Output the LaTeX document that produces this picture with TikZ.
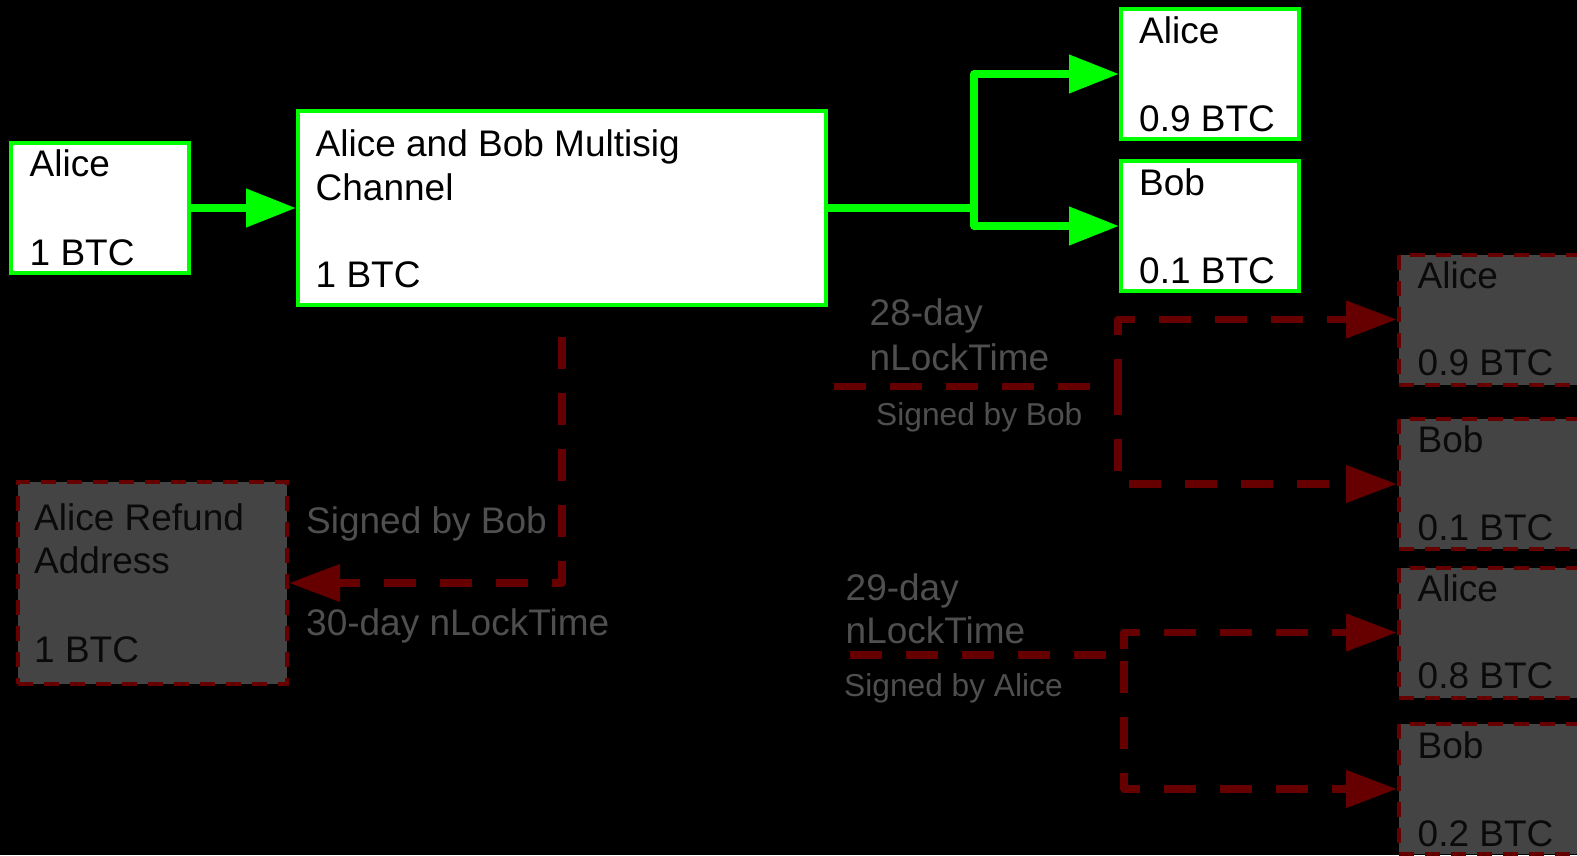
\documentclass[tikz,border=0pt]{standalone}
\usepackage{fontspec}
\setmainfont{Liberation Sans}
\usetikzlibrary{arrows.meta}
\definecolor{chgreen}{HTML}{00FF00}
\definecolor{lockred}{HTML}{660000}
\definecolor{boxgrey}{HTML}{444444}
\definecolor{notegrey}{HTML}{4F4F4F}
\definecolor{inkdark}{HTML}{0A0A0A}
\begin{document}
\begin{tikzpicture}[x=1pt,y=-1pt,
  txbig/.style={font=\fontsize{37}{44}\selectfont, inner sep=0pt, anchor=base west},
  txsmall/.style={font=\fontsize{31.7}{38}\selectfont, inner sep=0pt, anchor=base west},
  paidbox/.style={draw=chgreen, fill=white, line width=4pt, inner sep=0pt},
  lockbox/.style={draw=lockred, fill=boxgrey, line width=4pt, dash pattern=on 15pt off 11pt, inner sep=0pt, minimum width=182pt, minimum height=130pt},
  payflow/.style={draw=chgreen, line width=7.5pt, line join=round, -{Triangle[length=50pt,width=37pt]}},
  lockflow/.style={draw=lockred, line width=7.5pt, line join=round, dash pattern=on 32pt off 24pt, -{Triangle[length=51pt,width=36pt]}},
  note/.style={txbig, text=notegrey},
  smallnote/.style={txsmall, text=notegrey},
  darkink/.style={txbig, text=inkdark},
]
\useasboundingbox (0,0) rectangle (1577,855);
\fill[black] (0,0) rectangle (1577,855);
\clip (0,0) rectangle (1577,855);

% funding output and the multisig channel
\node[paidbox, minimum width=178pt, minimum height=130pt] (alice0) at (100,208) {};
\node[txbig] (alice0name) at (29.5,176.7) {Alice};
\node[txbig] (alice0amt) at (29.5,265) {1 BTC};

\node[paidbox, minimum width=528pt, minimum height=194pt] (chan) at (562,208) {};
\node[txbig] (chanl1) at (315.5,156) {Alice and Bob Multisig};
\node[txbig] (chanl2) at (315.5,200) {Channel};
\node[txbig] (chanamt) at (315.5,287) {1 BTC};

% final settlement
\node[paidbox, minimum width=178pt, minimum height=130pt] (alice1) at (1210,74) {};
\node[txbig] (alice1name) at (1139,43.5) {Alice};
\node[txbig] (alice1amt) at (1139,131.5) {0.9 BTC};
\node[paidbox, minimum width=178pt, minimum height=130pt] (bob1) at (1210,226) {};
\node[txbig] (bob1name) at (1139,195) {Bob};
\node[txbig] (bob1amt) at (1139,283) {0.1 BTC};

\draw[payflow] (alice0.east) -- (chan.west);
\coordinate (fork) at (974,208);
\draw[payflow] (chan.east) -- (fork) |- (alice1.west);
\draw[payflow] (chan.east) -- (fork) |- (bob1.west);

% refund transaction
\node[lockbox, minimum width=269pt, minimum height=202pt] (refund) at (152.5,583) {};
\node[darkink] (refundl1) at (34,530) {Alice Refund};
\node[darkink] (refundl2) at (34,573) {Address};
\node[darkink] (refundamt) at (34,662) {1 BTC};

\coordinate (refundsrc) at (562,337);
\draw[lockflow] (refundsrc) |- (refund.east);
\node[note] (refundsig) at (306,533.3) {Signed by Bob};
\node[note] (refundlock) at (306,635) {30-day nLockTime};

% first update: 28-day lock
\node[lockbox] (alice2) at (1490,319.5) {};
\node[darkink] (alice2name) at (1417.5,288.3) {Alice};
\node[darkink] (alice2amt) at (1417.5,375.5) {0.9 BTC};
\node[lockbox] (bob2) at (1490,484) {};
\node[darkink] (bob2name) at (1417.5,452.7) {Bob};
\node[darkink] (bob2amt) at (1417.5,540) {0.1 BTC};

\coordinate (src28) at (834,386.7);
\coordinate (split28) at (1118,386.7);
\draw[lockflow] (src28) -- (split28) |- (alice2.west);
\draw[lockflow] (src28) -- (split28) |- (bob2.west);
\node[note] (lock28a) at (869.5,325) {28-day};
\node[note] (lock28b) at (869.5,370) {nLockTime};
\node[smallnote] (sig28) at (876,425) {Signed by Bob};

% second update: 29-day lock
\node[lockbox] (alice3) at (1490,632.5) {};
\node[darkink] (alice3name) at (1417.5,601.7) {Alice};
\node[darkink] (alice3amt) at (1417.5,688.3) {0.8 BTC};
\node[lockbox] (bob3) at (1490,789) {};
\node[darkink] (bob3name) at (1417.5,758.3) {Bob};
\node[darkink] (bob3amt) at (1417.5,846.7) {0.2 BTC};

\coordinate (src29) at (850,655);
\coordinate (split29) at (1124,655);
\draw[lockflow] (src29) -- (split29) |- (alice3.west);
\draw[lockflow] (src29) -- (split29) |- (bob3.west);
\node[note] (lock29a) at (845.5,600) {29-day};
\node[note] (lock29b) at (845.5,643.3) {nLockTime};
\node[smallnote] (sig29) at (844,696.7) {Signed by Alice};
\end{tikzpicture}
\end{document}
